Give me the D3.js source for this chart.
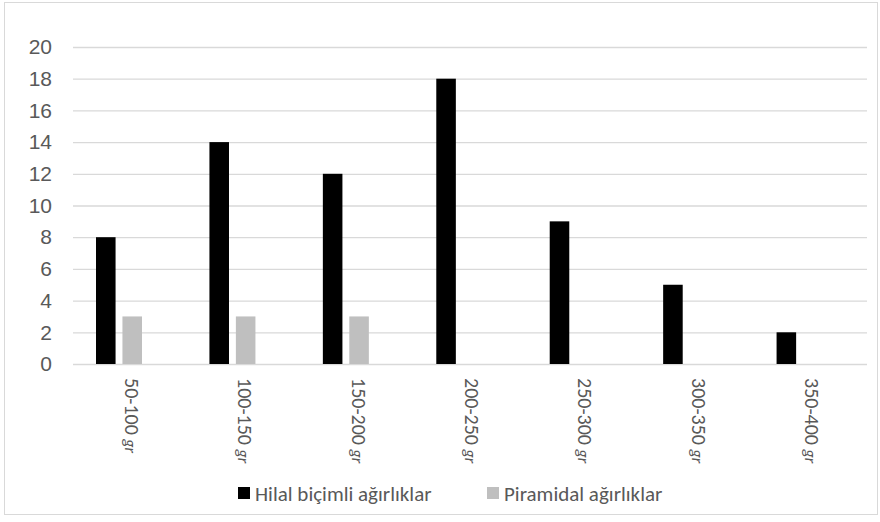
<!DOCTYPE html>
<html>
<head>
<meta charset="utf-8">
<script src="https://cdn.jsdelivr.net/npm/d3@7"></script>
<style>
body { margin: 0; background: #fff; }
svg { font-family: Calibri, Carlito, "Liberation Sans", Arial, sans-serif; }
</style>
</head>
<body>
<div class="container"></div>
<script>
// Data
const categories = ["50-100", "100-150", "150-200", "200-250", "250-300", "300-350", "350-400"];
const hilal = [8, 14, 12, 18, 9, 5, 2];
const piramidal = [3, 3, 3, 0, 0, 0, 0];
const seriesNames = ["Hilal biçimli ağırlıklar", "Piramidal ağırlıklar"];
const seriesColors = ["#000000", "#bfbfbf"];
const yTicks = [0, 2, 4, 6, 8, 10, 12, 14, 16, 18, 20];

// Dimensions
const w = 880;
const h = 522;
const plotLeft = 73, plotRight = 867, plotTop = 47, plotBottom = 364;

const svg = d3.select(".container")
  .append("svg")
  .attr("width", w)
  .attr("height", h);

// outer border
svg.append("rect")
  .attr("x", 4.5).attr("y", 2.5)
  .attr("width", 873).attr("height", 512)
  .attr("fill", "#fff")
  .attr("stroke", "#d9d9d9");

// Scales
const xScale = d3.scaleBand()
  .domain(categories)
  .range([plotLeft, plotRight]);

const x1 = d3.scaleBand()
  .domain([0, 1])
  .range([23, 69])
  .paddingInner(0.26);

const yScale = d3.scaleLinear()
  .domain([0, 20])
  .range([plotBottom, plotTop]);

// Gridlines + y labels
const yAxis = d3.axisLeft(yScale)
  .tickValues(yTicks)
  .tickSize(-(plotRight - plotLeft))
  .tickPadding(21);
const gy = svg.append("g")
  .attr("transform", `translate(${plotLeft},0)`)
  .call(yAxis);
gy.select(".domain").remove();
gy.selectAll("line").attr("stroke", "#d9d9d9").attr("stroke-width", 1.3);
gy.selectAll("text")
  .attr("fill", "#595959")
  .style("font-size", "21px");

// Bars
const series = [hilal, piramidal];
series.forEach((vals, s) => {
  svg.append("g").selectAll("rect")
    .data(vals)
    .enter()
    .append("rect")
    .attr("x", (d, i) => xScale(categories[i]) + x1(s))
    .attr("y", d => yScale(d))
    .attr("width", x1.bandwidth())
    .attr("height", d => plotBottom - yScale(d))
    .attr("fill", seriesColors[s]);
});

// x labels (rotated)
const xl = svg.append("g").selectAll("text")
  .data(categories)
  .enter()
  .append("text")
  .attr("transform", d => `translate(${xScale(d) + xScale.bandwidth() / 2 + 2},378) rotate(90)`)
  .attr("dy", "0.35em")
  .attr("fill", "#595959")
  .style("font-size", "20px");
xl.append("tspan").text(d => d + " ");
xl.append("tspan").style("font-style", "italic").style("font-size", "16px").text("gr");

// Legend
const legendX = [238, 487];
const legend = svg.append("g");
seriesNames.forEach((name, i) => {
  legend.append("rect")
    .attr("x", legendX[i]).attr("y", 487)
    .attr("width", 12).attr("height", 12)
    .attr("fill", seriesColors[i]);
  legend.append("text")
    .attr("x", legendX[i] + 17).attr("y", 494)
    .attr("dy", "0.35em")
    .attr("fill", "#595959")
    .style("font-size", "21px")
    .text(name);
});
</script>
</body>
</html>
